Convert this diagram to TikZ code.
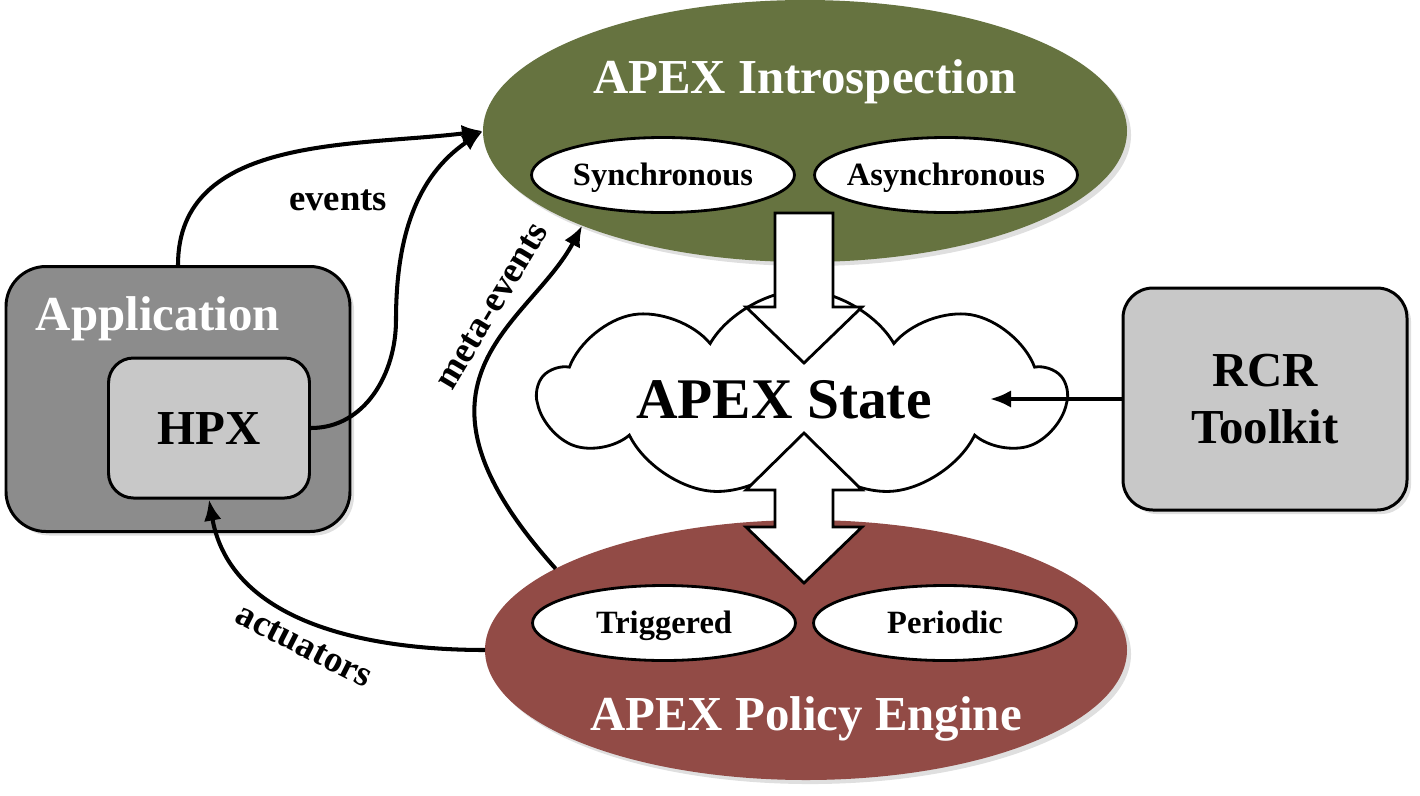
\documentclass[tikz,border=0pt]{standalone}
\usepackage{fontspec}
\setmainfont{Liberation Serif}
\usetikzlibrary{shapes.geometric,shapes.symbols,arrows.meta,shadows}

\definecolor{introgreen}{RGB}{102,115,64}
\definecolor{policyred}{RGB}{146,75,70}
\definecolor{appgray}{RGB}{140,140,140}
\definecolor{boxgray}{RGB}{200,200,200}

\newcommand{\bigfont}{\fontsize{27.8}{32.9}\selectfont\bfseries}
\newcommand{\subfont}{\fontsize{18.5}{22}\selectfont\bfseries}
\newcommand{\statefont}{\fontsize{32.7}{38}\selectfont\bfseries}
\newcommand{\lblfont}{\fontsize{20.9}{24}\selectfont\bfseries}

\tikzset{
  softshadow/.style={drop shadow={opacity=0.25}},
  subellipse/.style={ellipse, draw=black, line width=1.6pt, fill=white, inner sep=0pt, outer sep=0pt, minimum width=263*\pxu, minimum height=75*\pxu},
  subtext/.style={font=\subfont, text height=12.2pt, text depth=0pt},
  flow/.style={line width=2.3pt, -{Latex[length=12pt,width=10pt]}},
  blockarrow/.style={draw=black, line width=1.6pt, fill=white, line join=miter},
  lbl/.style={font=\lblfont},
}

\begin{document}
\begin{tikzpicture}[x=0.02cm, y=-0.02cm]

\def\pxu{0.02cm}

\useasboundingbox (0,0) rectangle (1420,795);

% application with hpx inside
\node[draw=black, line width=1.7pt, fill=appgray, rounded corners=0.8cm, minimum width=344*\pxu, minimum height=265*\pxu, softshadow] (app) at (178,399) {};
\node[anchor=base, text=white, font=\bigfont] (apptitle) at (158,330) {Application};
\node[draw=black, line width=1.7pt, fill=boxgray, rounded corners=0.5cm, minimum width=201*\pxu, minimum height=140*\pxu, font=\bigfont, text height=18.3pt, text depth=0pt] (hpx) at (209,428) {HPX};

% introspection
\node[ellipse, fill=introgreen, inner sep=0pt, outer sep=0pt, minimum width=644*\pxu, minimum height=262*\pxu, softshadow] (intro) at (805,131) {};
\node[anchor=base, text=white, font=\bigfont] (introtitle) at (805,93) {APEX Introspection};
\node[subellipse] (sync) at (663,175) {};
\node[subtext] at (sync) {Synchronous};
\node[subellipse] (async) at (946,175) {};
\node[subtext] at (async) {Asynchronous};

% policy engine
\node[ellipse, fill=policyred, inner sep=0pt, outer sep=0pt, minimum width=642*\pxu, minimum height=260*\pxu, softshadow] (policy) at (806,650) {};
\node[anchor=base, text=white, font=\bigfont] (policytitle) at (806,730) {APEX Policy Engine};
\node[subellipse] (trig) at (664,623) {};
\node[subtext] at (trig) {Triggered};
\node[subellipse] (peri) at (945,623) {};
\node[subtext] at (peri) {Periodic};

% state
\node[cloud, draw=black, line width=1.6pt, fill=white, cloud puffs=9, cloud puff arc=120, aspect=2.5, inner sep=0pt, minimum width=526*\pxu, minimum height=207*\pxu] (cloud) at (802,394) {};
\node[anchor=base, font=\statefont] (state) at (784,418) {APEX State};

% block arrows
\draw[blockarrow] (775,213) -- (833,213) -- (833,307) -- (862,307) -- (804,363) -- (746,307) -- (775,307) -- cycle;
\draw[blockarrow] (804,433) -- (862,490) -- (833,490) -- (833,527) -- (862,527) -- (804,583) -- (746,527) -- (775,527) -- (775,490) -- (746,490) -- cycle;

% rcr toolkit
\node[draw=black, line width=1.7pt, fill=boxgray, rounded corners=0.6cm, minimum width=284*\pxu, minimum height=222*\pxu, align=center, font=\bigfont, softshadow] (rcr) at (1265,399) {RCR\\Toolkit};
\coordinate (statein) at (990,399);
\draw[flow] (rcr.west) -- (statein);

% events
\coordinate (hpxbend) at (396,320);
\draw[flow] (app.north) to[out=90, in=187] (intro.west);
\draw[flow] (hpx.east) to[out=0, in=-90] (hpxbend) to[out=90, in=214] (intro.west);
\node[anchor=base, lbl] (eventslbl) at (338,210) {events};

% meta-events
\draw[flow] (policy.162) to[out=132, in=242, out looseness=1.9, in looseness=0.84] (intro.203);
\node[lbl, rotate=59] (metalbl) at (492,306) {meta-events};

% actuators
\draw[flow] (policy.west) to[out=180, in=-80] (hpx.south);
\node[lbl, rotate=-27] (actlbl) at (304,646) {actuators};

\end{tikzpicture}
\end{document}
